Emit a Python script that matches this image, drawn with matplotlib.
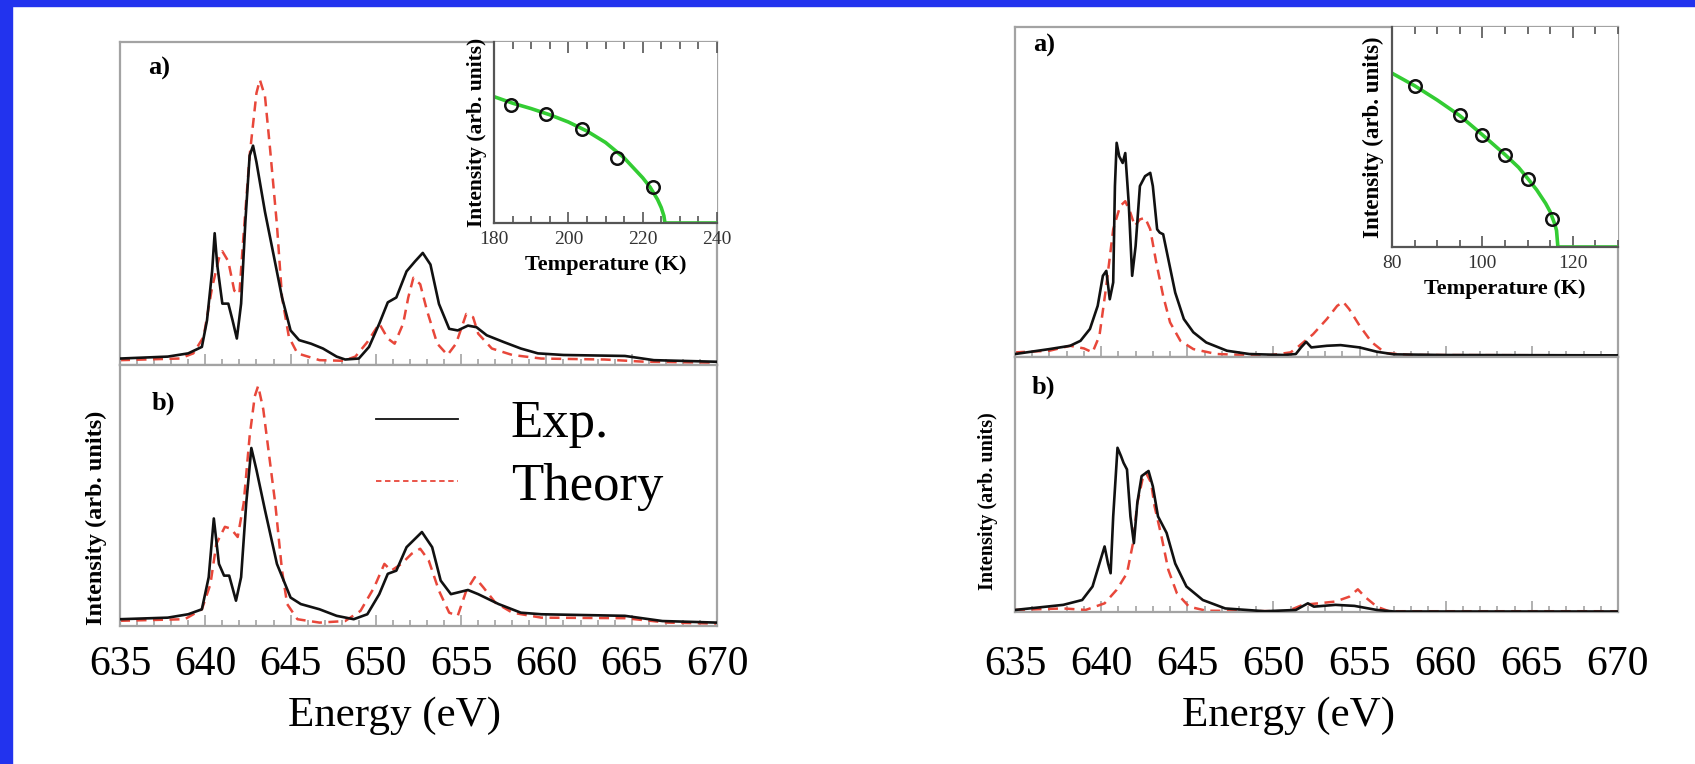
import matplotlib
matplotlib.use("Agg")
import matplotlib.pyplot as plt
from matplotlib.lines import Line2D

plt.rcParams['font.family'] = ['Liberation Serif', 'DejaVu Serif']

W, H = 1695, 764

# ---- left panel, a) ----
e_la_exp = [635, 637.8, 639.0, 639.8, 640.1, 640.4, 640.55, 640.7, 641.0, 641.35, 641.6, 641.85,
            642.1, 642.35, 642.6, 642.8, 643.0, 643.5, 644.0, 644.5, 645.0, 645.5, 646.2, 646.9,
            647.7, 648.2, 649.0, 649.6, 650.2, 650.7, 651.2, 651.8, 652.3, 652.75, 653.2, 653.7,
            654.3, 654.8, 655.4, 655.9, 656.5, 657.5, 658.5, 659.5, 661.0, 664.6, 666.3, 670]
i_la_exp = [0.02, 0.026, 0.036, 0.056, 0.138, 0.29, 0.408, 0.31, 0.19, 0.19, 0.138, 0.082,
            0.19, 0.444, 0.648, 0.679, 0.628, 0.474, 0.342, 0.209, 0.107, 0.077, 0.066, 0.051,
            0.026, 0.017, 0.02, 0.056, 0.128, 0.194, 0.209, 0.29, 0.321, 0.347, 0.311, 0.189,
            0.112, 0.107, 0.122, 0.117, 0.092, 0.071, 0.051, 0.036, 0.031, 0.028, 0.015, 0.01]
e_la_th = [635, 638.5, 639.3, 639.9, 640.4, 640.8, 641.0, 641.35, 641.7, 642.0, 642.2, 642.6,
           643.0, 643.2, 643.5, 643.8, 644.2, 644.5, 644.9, 645.4, 646.7, 648.1, 648.8, 649.5,
           650.2, 650.7, 651.1, 651.6, 651.9, 652.2, 652.6, 653.0, 653.6, 654.2, 654.7, 655.3,
           655.7, 656.0, 656.8, 658.0, 659.7, 663.4, 665.8, 670]
i_la_th = [0.015, 0.02, 0.036, 0.087, 0.24, 0.33, 0.352, 0.321, 0.23, 0.22, 0.372, 0.648,
           0.842, 0.883, 0.832, 0.668, 0.434, 0.209, 0.087, 0.036, 0.015, 0.013, 0.026, 0.071,
           0.128, 0.082, 0.066, 0.128, 0.209, 0.27, 0.25, 0.168, 0.066, 0.031, 0.066, 0.158,
           0.148, 0.097, 0.051, 0.031, 0.02, 0.017, 0.01, 0.007]

# ---- left panel, b) ----
e_lb_exp = [635, 637.8, 639.0, 639.8, 640.2, 640.5, 640.8, 641.1, 641.4, 641.8, 642.1, 642.4,
            642.7, 643.0, 643.5, 644.2, 645.0, 645.6, 646.7, 647.7, 648.7, 649.5, 650.2, 650.7,
            651.2, 651.8, 652.7, 653.3, 653.8, 654.4, 655.4, 656.0, 657.2, 658.5, 659.7, 664.6,
            666.8, 670]
i_lb_exp = [0.026, 0.032, 0.045, 0.064, 0.187, 0.412, 0.238, 0.193, 0.193, 0.097, 0.187, 0.47,
            0.682, 0.598, 0.444, 0.238, 0.109, 0.084, 0.064, 0.039, 0.026, 0.045, 0.122, 0.2,
            0.212, 0.302, 0.36, 0.302, 0.174, 0.122, 0.138, 0.122, 0.084, 0.051, 0.045, 0.039,
            0.019, 0.013]
e_lb_th = [635, 638.8, 639.8, 640.3, 640.65, 641.15, 641.5, 641.9, 642.25, 642.6, 642.9, 643.1,
           643.4, 643.7, 644.1, 644.5, 644.8, 645.4, 646.7, 648.2, 649.1, 649.9, 650.5, 650.9,
           651.5, 652.1, 652.6, 653.1, 653.7, 654.3, 654.8, 655.3, 655.8, 656.3, 657.0, 658.0,
           659.7, 664.6, 667.1, 670]
i_lb_th = [0.02, 0.026, 0.064, 0.16, 0.315, 0.38, 0.373, 0.341, 0.47, 0.727, 0.88, 0.92,
           0.83, 0.676, 0.47, 0.212, 0.084, 0.026, 0.013, 0.019, 0.058, 0.148, 0.238, 0.212,
           0.238, 0.277, 0.296, 0.251, 0.135, 0.051, 0.039, 0.135, 0.187, 0.148, 0.09, 0.051,
           0.032, 0.03, 0.013, 0.009]

# ---- right panel, a) ----
e_ra_exp = [635, 637.0, 638.2, 638.8, 639.35, 639.8, 640.1, 640.3, 640.5, 640.7, 640.8, 640.9,
            641.05, 641.25, 641.4, 641.6, 641.8, 642.0, 642.25, 642.55, 642.85, 643.0, 643.25,
            643.4, 643.6, 643.9, 644.3, 644.8, 645.35, 646.1, 647.3, 648.6, 650.6, 651.3, 651.6,
            651.9, 652.2, 653.1, 653.9, 655.0, 656.0, 657.0, 660.0, 670]
i_ra_exp = [0.009, 0.024, 0.034, 0.049, 0.085, 0.155, 0.246, 0.261, 0.175, 0.226, 0.518, 0.649,
            0.608, 0.588, 0.618, 0.467, 0.246, 0.336, 0.518, 0.548, 0.558, 0.518, 0.387,
            0.377, 0.372, 0.296, 0.195, 0.115, 0.075, 0.044, 0.019, 0.009, 0.006, 0.009, 0.029,
            0.046, 0.029, 0.034, 0.036, 0.029, 0.016, 0.008, 0.006, 0.005]
e_ra_th = [635, 637, 638.2, 639.0, 639.5, 639.9, 640.3, 640.7, 641.1, 641.4, 641.7, 641.95,
           642.25, 642.55, 642.85, 643.2, 643.6, 644.0, 644.6, 645.35, 646.7, 649.6, 651.0,
           651.5, 652.3, 653.1, 653.7, 654.05, 654.4, 655.0, 655.7, 656.5, 658.0, 670]
i_ra_th = [0.014, 0.019, 0.034, 0.026, 0.014, 0.064, 0.216, 0.387, 0.457, 0.472, 0.437, 0.397,
           0.417, 0.422, 0.387, 0.286, 0.185, 0.105, 0.049, 0.024, 0.009, 0.004, 0.014,
           0.034, 0.069, 0.115, 0.155, 0.167, 0.145, 0.095, 0.045, 0.012, 0.006, 0.005]

# ---- right panel, b) ----
e_rb_exp = [635, 637.8, 638.9, 639.5, 639.9, 640.2, 640.4, 640.55, 640.7, 640.95, 641.15, 641.3,
            641.5, 641.7, 641.9, 642.1, 642.35, 642.75, 643.0, 643.3, 643.5, 643.8, 644.3,
            644.95, 645.9, 647.2, 649.5, 651.3, 652.0, 652.35, 653.6, 654.7, 656.0, 657.0, 670]
i_rb_exp = [0.008, 0.028, 0.047, 0.10, 0.19, 0.257, 0.19, 0.152, 0.375, 0.644, 0.612, 0.585,
            0.559, 0.375, 0.27, 0.428, 0.533, 0.553, 0.493, 0.375, 0.349, 0.31, 0.19,
            0.10, 0.047, 0.014, 0.003, 0.008, 0.034, 0.021, 0.028, 0.024, 0.008, 0.002, 0.002]
e_rb_th = [635, 637.8, 639.1, 640.2, 640.9, 641.5, 641.85, 642.1, 642.4, 642.6, 642.9, 643.1,
           643.5, 643.9, 644.4, 645.1, 646.1, 650.8, 651.7, 652.6, 653.6, 654.4, 654.9, 655.3,
           656.0, 656.7, 670]
i_rb_th = [0.008, 0.014, 0.008, 0.034, 0.087, 0.152, 0.27, 0.428, 0.52, 0.546, 0.507, 0.415,
           0.297, 0.165, 0.073, 0.021, 0.005, 0.003, 0.028, 0.034, 0.041, 0.06, 0.089, 0.06,
           0.021, 0.003, 0.003]

# ---- insets: order parameter vs temperature ----
t_pts_l = [184.6, 194.1, 203.7, 213.2, 222.8]
i_pts_l = [0.652, 0.601, 0.518, 0.361, 0.201]
t_fit_l = [180, 185, 190, 195, 200, 205, 210, 215, 220, 222, 224, 225, 225.7, 226, 240]
i_fit_l = [0.698, 0.662, 0.632, 0.598, 0.558, 0.508, 0.445, 0.36, 0.25, 0.198, 0.13, 0.085, 0.04, 0.0, 0.0]

t_pts_r = [85, 95, 100, 105, 110, 115.5]
i_pts_r = [0.732, 0.60, 0.51, 0.42, 0.307, 0.127]
t_fit_r = [80, 85, 90, 95, 100, 105, 108, 110, 112, 114, 115, 115.5, 116, 116.4, 116.7, 130]
i_fit_r = [0.79, 0.733, 0.668, 0.597, 0.51, 0.42, 0.362, 0.312, 0.26, 0.198, 0.16, 0.132, 0.105, 0.075, 0.0, 0.0]

energy_ticks = [635, 640, 645, 650, 655, 660, 665, 670]

BLACK = '#111111'
RED = '#e8473a'
GREEN = '#33cc33'
SPINE = '#a3a3a3'

fig = plt.figure(figsize=(W / 100, H / 100), dpi=100)
fig.patch.set_facecolor('white')


def add_ax(l, t, r, b, **kw):
    return fig.add_axes([l / W, 1 - b / H, (r - l) / W, (b - t) / H], **kw)


def style_main(ax, labels, pad):
    ax.set_xlim(635, 670)
    ax.set_ylim(0, 1)
    for s in ax.spines.values():
        s.set_color(SPINE)
        s.set_linewidth(1.6)
    ax.set_xticks(energy_ticks)
    ax.set_xticks(range(635, 671), minor=True)
    ax.set_yticks([])
    ax.tick_params(axis='x', which='both', direction='in', colors=SPINE, width=1.2,
                   labelcolor='black', labelsize=30, pad=pad, labelbottom=labels)
    ax.tick_params(axis='x', which='major', length=8)
    ax.tick_params(axis='x', which='minor', length=4.5)


def plot_pair(ax, e1, i1, e2, i2):
    ax.plot(e1, i1, color=BLACK, lw=1.9, zorder=3)
    ax.plot(e2, i2, color=RED, lw=1.8, ls=(0, (4, 2.6)), zorder=2)


def style_inset(ax, xlim, major, ylab_size, ylab_pad, tick_pad, xlab_pad):
    ax.set_xlim(*xlim)
    ax.set_ylim(0, 1)
    ax.spines['top'].set_visible(False)
    ax.spines['right'].set_visible(False)
    for s in ('left', 'bottom'):
        ax.spines[s].set_color('#555555')
        ax.spines[s].set_linewidth(1.6)
    ax.set_xticks(major)
    ax.set_xticks(range(xlim[0], xlim[1] + 1, 5), minor=True)
    ax.set_yticks([])
    ax.tick_params(axis='x', which='both', direction='in', top=True, bottom=True,
                   colors='#555555', labelcolor='#333333', labelsize=14, pad=tick_pad, width=1.2)
    ax.tick_params(axis='x', which='major', length=8)
    ax.tick_params(axis='x', which='minor', length=5)
    ax.set_xlabel('Temperature (K)', fontsize=16, fontweight='bold', labelpad=xlab_pad)
    ax.set_ylabel('Intensity (arb. units)', fontsize=ylab_size, fontweight='bold', labelpad=ylab_pad)


# left panel
ax_la = add_ax(120, 42, 717, 365)
ax_lb = add_ax(120, 365, 717, 626)
plot_pair(ax_la, e_la_exp, i_la_exp, e_la_th, i_la_th)
plot_pair(ax_lb, e_lb_exp, i_lb_exp, e_lb_th, i_lb_th)
style_main(ax_la, False, 0)
style_main(ax_lb, True, 14)
fig.text(96 / W, 1 - 518 / H, 'Intensity (arb. units)', fontsize=17.5, fontweight='bold',
         rotation=90, ha='center', va='center')
fig.text(394 / W, 1 - 716 / H, 'Energy (eV)', fontsize=31, ha='center', va='center')

# right panel
ax_ra = add_ax(1015, 27, 1618, 357)
ax_rb = add_ax(1015, 357, 1618, 612)
plot_pair(ax_ra, e_ra_exp, i_ra_exp, e_ra_th, i_ra_th)
plot_pair(ax_rb, e_rb_exp, i_rb_exp, e_rb_th, i_rb_th)
style_main(ax_ra, False, 0)
style_main(ax_rb, True, 24)
fig.text(988 / W, 1 - 501 / H, 'Intensity (arb. units)', fontsize=14.5, fontweight='bold',
         rotation=90, ha='center', va='center')
fig.text(1289 / W, 1 - 716 / H, 'Energy (eV)', fontsize=31, ha='center', va='center')

# panel letters
for (x, y, s) in [(148, 68, 'a)'), (152, 403, 'b)'), (1033, 45, 'a)'), (1032, 387, 'b)')]:
    fig.text(x / W, 1 - y / H, s, fontsize=19, fontweight='bold', ha='left', va='center')

# legend in left b)
handles = [Line2D([], [], color=BLACK, lw=1.3),
           Line2D([], [], color=RED, lw=1.3, ls=(0, (3, 2)))]
fig.legend(handles, ['Exp.', 'Theory'], loc='upper left', bbox_to_anchor=(376 / W, 1 - 400 / H),
           frameon=False, fontsize=38, handlelength=1.55, handletextpad=1.0, labelspacing=0.28,
           borderpad=0, borderaxespad=0)

# insets
in_l = add_ax(494, 42, 717, 223)
in_l.plot(t_fit_l, i_fit_l, color=GREEN, lw=2.6, zorder=2)
in_l.plot(t_pts_l, i_pts_l, 'o', mfc='none', mec=BLACK, mew=1.8, ms=9, zorder=3)
style_inset(in_l, (180, 240), [180, 200, 220, 240], 15.5, 5, 6, 5)

in_r = add_ax(1392, 27, 1618, 247)
in_r.plot(t_fit_r, i_fit_r, color=GREEN, lw=2.6, zorder=2)
in_r.plot(t_pts_r, i_pts_r, 'o', mfc='none', mec=BLACK, mew=1.8, ms=9, zorder=3)
style_inset(in_r, (80, 130), [80, 100, 120], 16.5, 6, 6, 5)

# blue frame on the slide
fig.patches.append(plt.Rectangle((0, 0), 12 / W, 1, transform=fig.transFigure,
                                 color='#2233ee', zorder=10))
fig.patches.append(plt.Rectangle((0, 1 - 6 / H), 1, 6 / H, transform=fig.transFigure,
                                 color='#2233ee', zorder=10))

fig.savefig('out.png', dpi=100)
